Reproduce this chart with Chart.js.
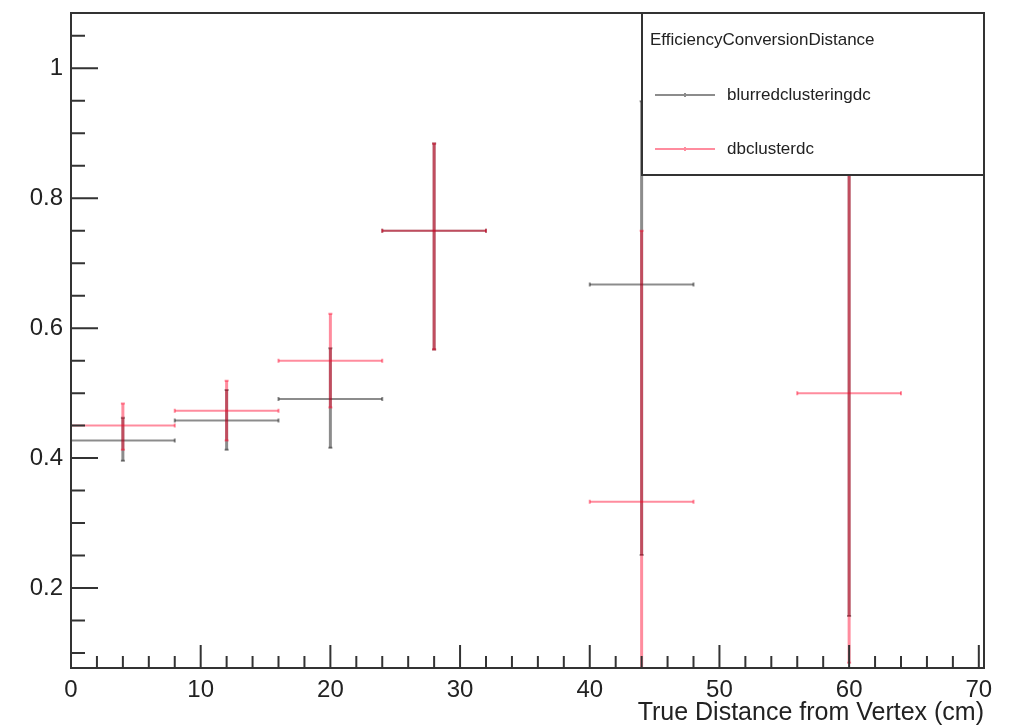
<!DOCTYPE html>
<html>
<head>
<meta charset="utf-8">
<title>EfficiencyConversionDistance</title>
<script src="https://cdn.jsdelivr.net/npm/chart.js@4.4.1/dist/chart.umd.min.js"></script>
<style>
  html, body { margin: 0; padding: 0; background: #fff; }
  #wrap { width: 1023px; height: 728px; position: relative; }
</style>
</head>
<body>
<div id="wrap"><canvas id="effChart"></canvas></div>
<script>
// bins are 8 cm wide, values plotted at the bin centre
const binCentres = [4, 12, 20, 28, 44, 60];
const binHalfWidth = 4;

// blurredclusteringdc efficiency and its asymmetric interval
const blurredEff  = [0.427, 0.458, 0.491, 0.750, 0.667, 1.000];
const blurredLow  = [0.396, 0.413, 0.416, 0.567, 0.251, 0.157];
const blurredHigh = [0.462, 0.505, 0.569, 0.884, 0.949, 1.000];

// dbclusterdc efficiency and its asymmetric interval
const dbEff  = [0.450, 0.473, 0.550, 0.750, 0.333, 0.500];
const dbLow  = [0.413, 0.427, 0.478, 0.567, 0.000, 0.085];
const dbHigh = [0.484, 0.519, 0.622, 0.884, 0.750, 0.915];

const xTickValues = [0, 10, 20, 30, 40, 50, 60, 70];
const yTickValues = [0.2, 0.4, 0.6, 0.8, 1];

const legendTitle = 'EfficiencyConversionDistance';
const xTitle = 'True Distance from Vertex (cm)';

const BLACK = 'rgba(0,0,0,0.45)';
const RED = 'rgba(255,0,40,0.45)';
const FRAME = '#333';
const FONT = '"Liberation Sans", Arial, sans-serif';

function toPoints(ys) {
    return binCentres.map((x, i) => ({ x: x, y: ys[i] }));
}

// draws the horizontal bin width and vertical interval for every point
const errorBars = {
    id: 'errorBars',
    afterDatasetsDraw(chart) {
        const { ctx, chartArea: a, scales: { x, y } } = chart;
        ctx.save();
        ctx.beginPath();
        ctx.rect(a.left, a.top, a.right - a.left, a.bottom - a.top);
        ctx.clip();
        chart.data.datasets.forEach((ds, di) => {
            const meta = chart.getDatasetMeta(di);
            ctx.strokeStyle = ds.borderColor;
            meta.data.forEach((pt, i) => {
                const d = ds.data[i];
                const x0 = x.getPixelForValue(d.x - binHalfWidth);
                const x1 = x.getPixelForValue(d.x + binHalfWidth);
                const yLo = y.getPixelForValue(ds.yLow[i]);
                const yHi = y.getPixelForValue(ds.yHigh[i]);

                ctx.lineWidth = 2;
                ctx.beginPath();
                ctx.moveTo(x0, pt.y);
                ctx.lineTo(x1, pt.y);
                ctx.stroke();

                ctx.lineWidth = 3;
                ctx.beginPath();
                ctx.moveTo(pt.x, yHi);
                ctx.lineTo(pt.x, yLo);
                ctx.stroke();

                // little end marks
                ctx.lineWidth = 2;
                ctx.beginPath();
                ctx.moveTo(x0, pt.y - 2); ctx.lineTo(x0, pt.y + 2);
                ctx.moveTo(x1, pt.y - 2); ctx.lineTo(x1, pt.y + 2);
                ctx.moveTo(pt.x - 2, yHi); ctx.lineTo(pt.x + 2, yHi);
                ctx.moveTo(pt.x - 2, yLo); ctx.lineTo(pt.x + 2, yLo);
                ctx.stroke();
            });
        });
        ctx.restore();
    }
};

// frame with inward ticks, ROOT style
const frame = {
    id: 'frame',
    afterDatasetsDraw(chart) {
        const { ctx, chartArea: a, scales: { x, y } } = chart;
        ctx.save();
        ctx.strokeStyle = FRAME;
        ctx.lineWidth = 2;
        ctx.strokeRect(a.left, a.top, a.right - a.left, a.bottom - a.top);

        ctx.beginPath();
        for (let v = 0; v <= x.max; v += 2) {
            const px = x.getPixelForValue(v);
            const len = v % 10 === 0 ? 23 : 12;
            ctx.moveTo(px, a.bottom);
            ctx.lineTo(px, a.bottom - len);
        }
        for (let k = 2; k * 0.05 <= y.max; k++) {
            const py = y.getPixelForValue(k * 0.05);
            const len = k % 4 === 0 ? 27 : 14;
            ctx.moveTo(a.left, py);
            ctx.lineTo(a.left + len, py);
        }
        ctx.stroke();
        ctx.restore();
    }
};

// boxed legend in the upper right corner
const rootLegend = {
    id: 'rootLegend',
    afterDraw(chart) {
        const { ctx } = chart;
        const box = { l: 642, t: 13, r: 984, b: 175 };
        ctx.save();
        ctx.fillStyle = '#fff';
        ctx.fillRect(box.l, box.t, box.r - box.l, box.b - box.t);
        ctx.strokeStyle = FRAME;
        ctx.lineWidth = 2;
        ctx.strokeRect(box.l, box.t, box.r - box.l, box.b - box.t);

        ctx.font = '17px ' + FONT;
        ctx.fillStyle = '#222';
        ctx.textBaseline = 'middle';
        ctx.fillText(legendTitle, 650, 40);

        const rows = [95, 149];
        chart.data.datasets.forEach((ds, i) => {
            const yy = rows[i];
            ctx.strokeStyle = ds.borderColor;
            ctx.lineWidth = 2;
            ctx.beginPath();
            ctx.moveTo(655, yy);
            ctx.lineTo(715, yy);
            ctx.moveTo(685, yy - 2);
            ctx.lineTo(685, yy + 2);
            ctx.stroke();
            ctx.fillStyle = '#222';
            ctx.fillText(ds.label, 727, yy);
        });
        ctx.restore();
    }
};

new Chart(document.getElementById('effChart'), {
    type: 'scatter',
    data: {
        datasets: [
            {
                label: 'blurredclusteringdc',
                data: toPoints(blurredEff),
                yLow: blurredLow,
                yHigh: blurredHigh,
                borderColor: BLACK,
                backgroundColor: BLACK,
                pointRadius: 0,
                showLine: false
            },
            {
                label: 'dbclusterdc',
                data: toPoints(dbEff),
                yLow: dbLow,
                yHigh: dbHigh,
                borderColor: RED,
                backgroundColor: RED,
                pointRadius: 0,
                showLine: false
            }
        ]
    },
    options: {
        responsive: true,
        maintainAspectRatio: false,
        animation: false,
        layout: { padding: { top: 13, right: 39, left: 0, bottom: 0 } },
        plugins: {
            legend: { display: false },
            tooltip: { enabled: false }
        },
        scales: {
            x: {
                type: 'linear',
                min: 0,
                max: 70.4,
                afterBuildTicks: s => { s.ticks = xTickValues.map(v => ({ value: v })); },
                afterFit: s => {
                    s.height = 60;
                    s.paddingLeft = 0;
                    s.paddingRight = 0;
                },
                grid: { display: false, drawTicks: false },
                border: { display: false },
                ticks: {
                    color: '#222',
                    padding: 8,
                    maxRotation: 0,
                    font: { family: FONT, size: 24 },
                    callback: v => String(v)
                },
                title: {
                    display: true,
                    text: xTitle,
                    align: 'end',
                    color: '#222',
                    padding: 0,
                    font: { family: FONT, size: 25 }
                }
            },
            y: {
                type: 'linear',
                min: 0.077,
                max: 1.085,
                afterBuildTicks: s => { s.ticks = yTickValues.map(v => ({ value: v })); },
                afterFit: s => {
                    s.width = 71;
                    s.paddingTop = 0;
                    s.paddingBottom = 0;
                },
                grid: { display: false, drawTicks: false },
                border: { display: false },
                ticks: {
                    color: '#222',
                    padding: 8,
                    font: { family: FONT, size: 24 },
                    callback: v => String(v)
                }
            }
        }
    },
    plugins: [errorBars, frame, rootLegend]
});
</script>
</body>
</html>
